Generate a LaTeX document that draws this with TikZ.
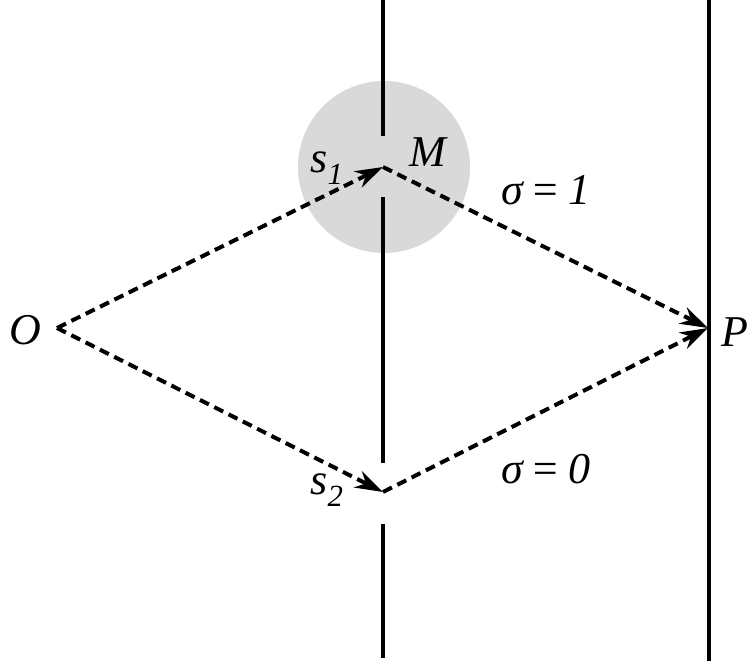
\documentclass[tikz,border=0pt]{standalone}
\usepackage{fontspec}
\setmainfont{Liberation Serif}
\usetikzlibrary{arrows.meta}
\begin{document}
\begin{tikzpicture}[x=1pt,y=-1pt,
  wall/.style={line width=4pt},
  ray/.style={line width=4pt,dash pattern=on 10pt off 6pt,-{Stealth[length=28pt,width=18pt,inset=9pt]}},
  lbl/.style={font=\fontsize{44}{48}\selectfont\itshape,inner sep=0pt}]
\useasboundingbox (0,0) rectangle (750,661);
\fill[gray!30] (384,167) circle (86);
% points
\coordinate (O) at (57,328);
\coordinate (M) at (383,167);
\coordinate (S) at (383,492);
\coordinate (P) at (708,328);
% walls
\coordinate (w1) at (383,0);
\coordinate (w2) at (383,136);
\coordinate (w3) at (383,197);
\coordinate (w4) at (383,463);
\coordinate (w5) at (383,524);
\coordinate (w6) at (383,658);
\coordinate (r1) at (709,0);
\coordinate (r2) at (709,661);
\draw[wall] (w1) -- (w2);
\draw[wall] (w3) -- (w4);
\draw[wall] (w5) -- (w6);
\draw[wall] (r1) -- (r2);
% rays
\draw[ray] (O) -- (M);
\draw[ray] (O) -- (S);
\draw[ray] (M) -- (P);
\draw[ray] (S) -- (P);
% labels
\node[lbl] (lO) at (25,330) {O};
\node[lbl] (lM) at (428,152) {M};
\node[lbl,anchor=east] (lP) at (749,332) {P};
\node[lbl] (ls1) at (327,168) {s\textsubscript{1}};
\node[lbl] (ls2) at (327,490) {s\textsubscript{2}};
\node[lbl] (lsig1) at (546,190) {σ\,=\,1};
\node[lbl] (lsig0) at (546,469) {σ\,=\,0};
\end{tikzpicture}
\end{document}
